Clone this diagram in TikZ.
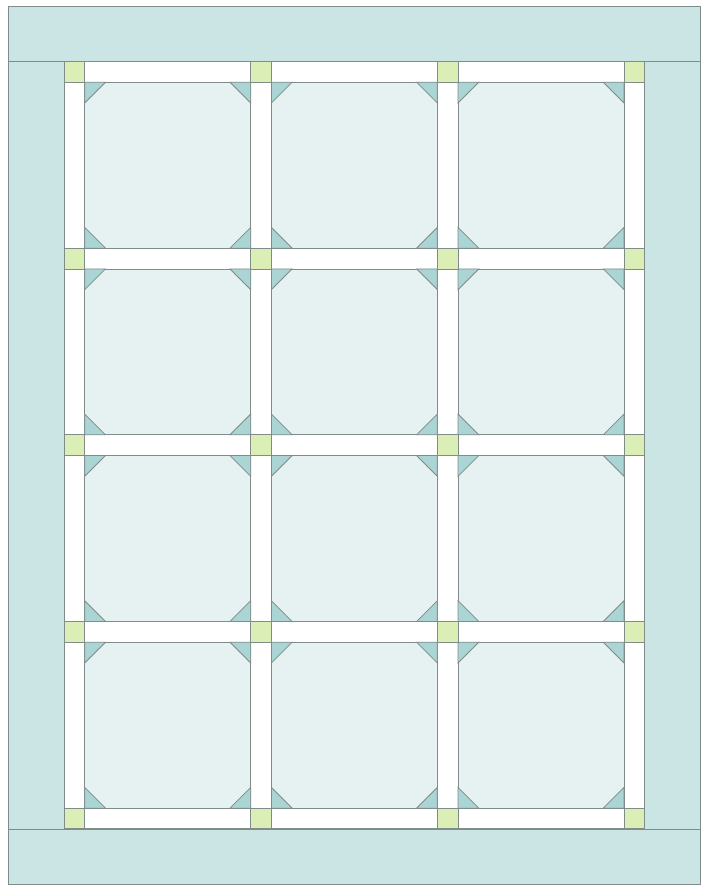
\documentclass[tikz,border=0pt]{standalone}
\definecolor{bordercol}{HTML}{CBE5E4}
\definecolor{blockcol}{HTML}{E5F2F1}
\definecolor{tricol}{HTML}{ABD4D4}
\definecolor{stonecol}{HTML}{DAEEB5}
\definecolor{linecol}{HTML}{7F8C8A}
\tikzset{
  piece/.style={draw=linecol, line width=0.8pt, line join=miter},
  band/.style={piece, fill=bordercol},
  blockpc/.style={piece, fill=blockcol},
  tripc/.style={piece, fill=tricol},
  stonepc/.style={piece, fill=stonecol},
  sashpc/.style={piece, fill=white}
}
\begin{document}
\begin{tikzpicture}[x=1pt,y=-1pt]
\useasboundingbox (0,0) rectangle (708,893);
% borders
\draw[band] (8,6.5) rectangle (700,61.5);
\draw[band] (8,829.3) rectangle (700,884.5);
\draw[band] (8,61.5) rectangle (64,829.3);
\draw[band] (644.7,61.5) rectangle (700,829.3);
\begin{scope}[xshift=64pt, yshift=-61.5pt, x=20.74pt, y=-20.74pt]
  % sashing
  \foreach \j in {0,...,4} {
    \foreach \i in {0,1,2} {
      \draw[sashpc] ({9*\i+1},{9*\j}) rectangle ({9*\i+9},{9*\j+1});
    }
  }
  \foreach \i in {0,...,3} {
    \foreach \j in {0,1,2,3} {
      \draw[sashpc] ({9*\i},{9*\j+1}) rectangle ({9*\i+1},{9*\j+9});
    }
  }
  % blocks
  \foreach \i in {0,1,2} {
    \foreach \j in {0,1,2,3} {
      \pgfmathsetmacro{\xa}{9*\i+1}
      \pgfmathsetmacro{\ya}{9*\j+1}
      \pgfmathsetmacro{\xb}{9*\i+9}
      \pgfmathsetmacro{\yb}{9*\j+9}
      \draw[blockpc] (\xa,\ya) rectangle (\xb,\yb);
      \draw[tripc] (\xa,\ya) -- (\xa+1,\ya) -- (\xa,\ya+1) -- cycle;
      \draw[tripc] (\xb,\ya) -- (\xb-1,\ya) -- (\xb,\ya+1) -- cycle;
      \draw[tripc] (\xa,\yb) -- (\xa+1,\yb) -- (\xa,\yb-1) -- cycle;
      \draw[tripc] (\xb,\yb) -- (\xb-1,\yb) -- (\xb,\yb-1) -- cycle;
    }
  }
  % cornerstones
  \foreach \i in {0,...,3} {
    \foreach \j in {0,...,4} {
      \draw[stonepc] ({9*\i},{9*\j}) rectangle ({9*\i+1},{9*\j+1});
    }
  }
\end{scope}
\end{tikzpicture}
\end{document}
